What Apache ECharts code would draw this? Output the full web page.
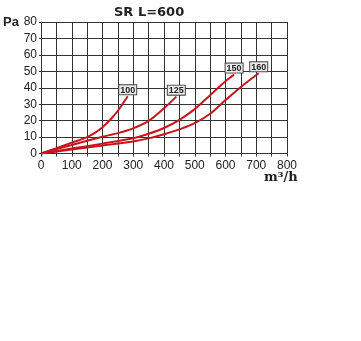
<!DOCTYPE html>
<html><head><meta charset="utf-8">
<script src="https://cdn.jsdelivr.net/npm/echarts@6/dist/echarts.min.js"></script>
<style>html,body{margin:0;padding:0;background:#fff}#c{width:361px;height:341px}</style>
</head><body><div id="c"></div>
<script>
const titleText = 'SR L=600';
const yUnit = 'Pa';
const xUnit = 'm³/h';
const xTicks = [0,100,200,300,400,500,600,700,800];
const yTicks = [0,10,20,30,40,50,60,70,80];
const names = ['100','125','150','160'];
const flow100 = [0, 50, 100, 150, 175, 200, 225, 250, 282];
const pa100   = [0, 3.2, 6.6, 10, 12.5, 16, 20.5, 26, 34.8];
const flow125 = [0, 100, 200, 250, 300, 350, 400, 440];
const pa125   = [0, 5.2, 10.2, 12.4, 15.3, 19.8, 27.5, 34.6];
const flow150 = [0, 100, 200, 300, 350, 400, 450, 500, 550, 600, 628];
const pa150   = [0, 3, 6, 9.3, 12, 15.5, 20.5, 27, 35.5, 44, 48];
const flow160 = [0, 100, 200, 300, 350, 400, 450, 500, 550, 600, 650, 708];
const pa160   = [0, 2.4, 4.8, 7.3, 9.2, 11.7, 14.7, 18.5, 24.2, 32.5, 40.5, 48.8];

const flows = [flow100, flow125, flow150, flow160];
const pas = [pa100, pa125, pa150, pa160];

const chart = echarts.init(document.getElementById('c'), null, {renderer:'canvas'});
const series = names.map((n, i) => ({
  type: 'line',
  name: n,
  smooth: 0.3,
  symbol: 'circle',
  symbolSize: 0,
  showSymbol: true,
  lineStyle: {color: '#c4161c', width: 2},
  itemStyle: {color: '#c4161c'},
  z: 3,
  data: flows[i].map((x, j) => {
    const d = {value: [x, pas[i][j]]};
    if (j === flows[i].length - 1) {
      d.label = {
        show: true, position: 'top', distance: 2, formatter: n,
        fontFamily: 'Liberation Sans', fontSize: 9, fontWeight: 'bold', color: '#222',
        lineHeight: 8,
        backgroundColor: '#ececec', borderColor: '#444', borderWidth: 1,
        padding: [1, 1, 0, 1]
      };
    }
    return d;
  })
}));

chart.setOption({
  animation: false,
  title: [
    {text: titleText, left: 114, top: 6, padding: 0,
     textStyle: {fontFamily: 'DejaVu Sans', fontWeight: 'bold', fontSize: 13, color: '#222'}},
    {text: yUnit, left: 3, top: 16, padding: 0,
     textStyle: {fontFamily: 'Liberation Sans', fontWeight: 'bold', fontSize: 13, color: '#222'}},
    {text: xUnit, left: 264, top: 171, padding: 0,
     textStyle: {fontFamily: 'DejaVu Serif', fontWeight: 'bold', fontSize: 13, color: '#222'}}
  ],
  grid: {left: 41, right: 74, top: 22, bottom: 187.5, containLabel: false},
  xAxis: {
    type: 'value', min: xTicks[0], max: xTicks[xTicks.length-1], interval: 100,
    axisLine: {show: true, lineStyle: {color: '#333', width: 1}},
    axisTick: {show: true, length: 3, lineStyle: {color: '#333'}},
    minorTick: {show: true, splitNumber: 2, length: 3, lineStyle: {color: '#333'}},
    axisLabel: {fontFamily: 'Liberation Sans', fontSize: 12, color: '#222', margin: 6},
    splitLine: {show: true, lineStyle: {color: '#333', width: 1}},
    minorSplitLine: {show: true, lineStyle: {color: '#333', width: 1}}
  },
  yAxis: {
    type: 'value', min: yTicks[0], max: yTicks[yTicks.length-1], interval: 10,
    axisLine: {show: true, lineStyle: {color: '#333', width: 1}},
    axisTick: {show: true, length: 2, lineStyle: {color: '#333'}},
    axisLabel: {fontFamily: 'Liberation Sans', fontSize: 12, color: '#222', margin: 4},
    splitLine: {show: true, lineStyle: {color: '#333', width: 1}}
  },
  series: series
});
</script></body></html>
